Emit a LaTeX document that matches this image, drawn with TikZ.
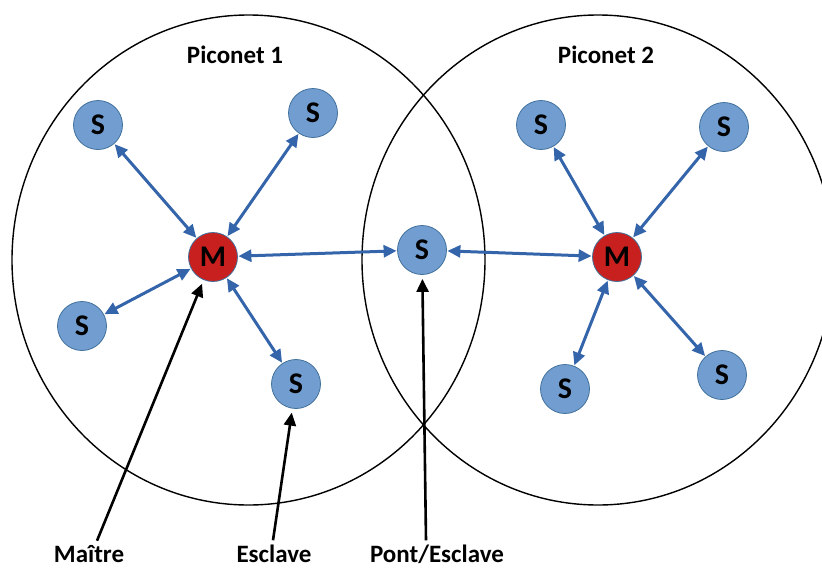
\documentclass[tikz,border=0pt]{standalone}
\usepackage{fontspec}
\setmainfont{Carlito}
\usetikzlibrary{arrows.meta}
\definecolor{sfill}{RGB}{114,157,208}
\definecolor{sedge}{RGB}{65,113,156}
\definecolor{mfill}{RGB}{200,32,30}
\definecolor{linkc}{RGB}{52,100,170}
\begin{document}
\begin{tikzpicture}[x=1pt,y=-1pt,
 dev/.style={circle, draw=sedge, line width=0.8pt, minimum size=49pt, inner sep=0pt, font=\fontsize{30}{34}\selectfont\bfseries},
 slave/.style={dev, fill=sfill},
 master/.style={dev, fill=mfill},
 link/.style={draw=linkc, line width=3pt, {Triangle[length=13pt,width=12pt]}-{Triangle[length=13pt,width=12pt]}, shorten <=0.5pt, shorten >=0.5pt},
 ptr/.style={draw=black, line width=2.6pt, -{Triangle[length=13pt,width=12pt]}, shorten >=4pt},
 lbl/.style={font=\fontsize{25}{29}\selectfont\bfseries, inner sep=0pt, anchor=base},
 piconet/.style={draw=black, line width=1.4pt}]
\useasboundingbox (0,0) rectangle (822,568);
\begin{scope}
\clip (0,0) rectangle (822,568);
\draw[piconet] (248.5,260) ellipse [x radius=236.5pt, y radius=245pt];
\draw[piconet] (598,260) ellipse [x radius=236pt, y radius=245pt];
\end{scope}
% labels
\node[lbl] (p1) at (235,63) {Piconet 1};
\node[lbl] (p2) at (606,63) {Piconet 2};
\node[lbl] (lm) at (89,562) {Maître};
\node[lbl] (le) at (274,562) {Esclave};
\node[lbl] (lp) at (437,562) {Pont/Esclave};
% devices
\node[master] (m1) at (213,257) {M};
\node[master] (m2) at (617,257) {M};
\node[slave] (s1a) at (98,125) {S};
\node[slave] (s1b) at (313,113) {S};
\node[slave] (s1c) at (82,326) {S};
\node[slave] (s1d) at (296,384) {S};
\node[slave] (sb) at (422,250) {S};
\node[slave] (s2a) at (541,125) {S};
\node[slave] (s2b) at (724,127) {S};
\node[slave] (s2c) at (565,389) {S};
\node[slave] (s2d) at (722,375) {S};
% links
\draw[link] (m1) -- (s1a);
\draw[link] (m1) -- (s1b);
\draw[link] (m1) -- (s1c);
\draw[link] (m1) -- (s1d);
\draw[link] (m1) -- (sb);
\draw[link] (sb) -- (m2);
\draw[link] (m2) -- (s2a);
\draw[link] (m2) -- (s2b);
\draw[link] (m2) -- (s2c);
\draw[link] (m2) -- (s2d);
% pointers
\draw[ptr] ([xshift=8pt,yshift=4pt]lm.north) -- (m1);
\draw[ptr] ([xshift=-1pt,yshift=4pt]le.north) -- (s1d);
\draw[ptr] ([xshift=-11pt,yshift=4pt]lp.north) -- (sb);
\end{tikzpicture}
\end{document}
